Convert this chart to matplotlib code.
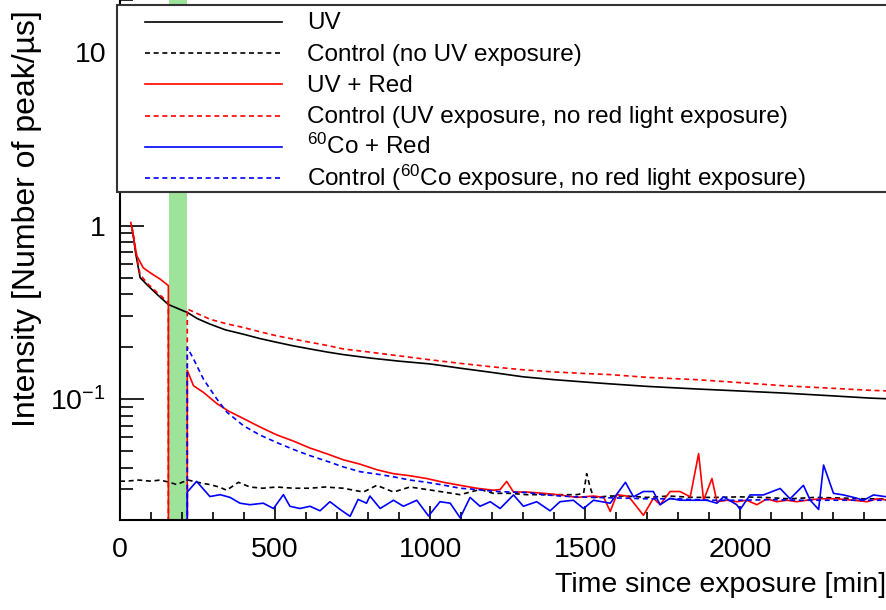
import numpy as np
import matplotlib
matplotlib.use('Agg')
import matplotlib.pyplot as plt
from matplotlib.ticker import FixedLocator, MultipleLocator, NullFormatter
from matplotlib.lines import Line2D
from matplotlib.patches import Rectangle

plt.rcParams['font.family'] = ['Liberation Sans', 'DejaVu Sans']
plt.rcParams['mathtext.fontset'] = 'custom'
plt.rcParams['mathtext.rm'] = 'Liberation Sans'
plt.rcParams['mathtext.it'] = 'Liberation Sans'

# UV (negro continuo)
t_uv = [38, 43, 50, 65, 90, 120, 156, 190, 217, 250, 290, 340, 398, 450, 505, 560, 613, 670, 720,
        806, 900, 1000, 1100, 1200, 1300, 1400, 1500, 1581, 1700, 1860, 2000, 2140, 2300, 2419, 2480]
v_uv = [0.99, 0.87, 0.70, 0.50, 0.45, 0.40, 0.35, 0.33, 0.315, 0.29, 0.27, 0.25, 0.236, 0.223, 0.212,
        0.202, 0.194, 0.186, 0.18, 0.172, 0.165, 0.159, 0.150, 0.142, 0.134, 0.129, 0.125, 0.122,
        0.118, 0.114, 0.111, 0.108, 0.104, 0.101, 0.100]

# Control sin UV (negro discontinuo)
t_ctrl = [0, 21, 60, 100, 129, 160, 183, 200, 220, 250, 290, 320, 344, 382, 419, 460, 505, 560, 613,
          660, 720, 785, 828, 882, 935, 989, 1043, 1097, 1161, 1204, 1258, 1312, 1366, 1419, 1473,
          1495, 1505, 1516, 1527, 1581, 1634, 1700, 1770, 1850, 1920, 2000, 2080, 2160, 2240, 2320,
          2400, 2480]
v_ctrl = [0.0335, 0.0335, 0.034, 0.0335, 0.034, 0.033, 0.032, 0.033, 0.034, 0.033, 0.032, 0.031,
          0.0297, 0.033, 0.031, 0.0305, 0.031, 0.0305, 0.0305, 0.031, 0.0305, 0.029, 0.0317, 0.029,
          0.031, 0.030, 0.029, 0.028, 0.030, 0.0285, 0.0285, 0.028, 0.028, 0.028, 0.028, 0.0285,
          0.037, 0.031, 0.027, 0.0275, 0.0275, 0.027, 0.0275, 0.027, 0.027, 0.0272, 0.027, 0.0265,
          0.027, 0.0268, 0.0265, 0.0265]

# UV + Red (rojo continuo)
t_uvr = [35, 43, 54, 75, 100, 130, 156, 157, 216, 217, 237, 269, 312, 350, 398, 450, 505, 560, 613,
         670, 720, 774, 828, 882, 935, 989, 1043, 1097, 1150, 1204, 1226, 1247, 1269, 1312, 1366,
         1419, 1473, 1527, 1560, 1581, 1602, 1634, 1645, 1688, 1720, 1742, 1774, 1806, 1839, 1866,
         1882, 1909, 1925, 1957, 1989, 2021, 2054, 2086, 2118, 2151, 2183, 2215, 2258, 2312, 2366,
         2409, 2441, 2480]
v_uvr = [1.04, 0.87, 0.67, 0.57, 0.53, 0.49, 0.45, 0.0, 0.0, 0.146, 0.119, 0.109, 0.094, 0.085,
         0.077, 0.069, 0.062, 0.057, 0.052, 0.048, 0.0445, 0.042, 0.039, 0.037, 0.036, 0.0347,
         0.033, 0.0317, 0.0305, 0.0297, 0.030, 0.0334, 0.029, 0.029, 0.0285, 0.0279, 0.027,
         0.0275, 0.027, 0.0224, 0.028, 0.0275, 0.0267, 0.0213, 0.0267, 0.0245, 0.0292, 0.0292,
         0.0272, 0.0483, 0.026, 0.0347, 0.0255, 0.026, 0.0255, 0.026, 0.0245, 0.0265, 0.0255,
         0.026, 0.0255, 0.026, 0.0265, 0.0265, 0.026, 0.0255, 0.0265, 0.026]

# Control UV sin luz roja (rojo discontinuo)
t_uvc = [38, 43, 50, 65, 90, 120, 156, 157, 216, 217, 250, 290, 340, 398, 450, 505, 560, 613, 670,
         720, 806, 900, 1000, 1100, 1200, 1301, 1400, 1500, 1581, 1700, 1860, 2000, 2140, 2300,
         2419, 2480]
v_uvc = [0.99, 0.88, 0.72, 0.52, 0.46, 0.41, 0.36, 0.0, 0.0, 0.33, 0.31, 0.288, 0.272, 0.258, 0.244,
         0.231, 0.221, 0.212, 0.203, 0.194, 0.186, 0.177, 0.168, 0.160, 0.153, 0.147, 0.143, 0.140,
         0.138, 0.133, 0.129, 0.124, 0.119, 0.115, 0.112, 0.111]

# 60Co + Red (azul continuo)
t_cor = [216, 217, 247, 270, 290, 323, 355, 387, 419, 462, 495, 527, 548, 580, 613, 645, 677, 710,
         742, 768, 795, 806, 839, 882, 914, 957, 995, 1032, 1065, 1097, 1129, 1161, 1194, 1226,
         1269, 1301, 1344, 1387, 1419, 1462, 1495, 1527, 1581, 1630, 1656, 1688, 1720, 1742, 1774,
         1806, 1849, 1892, 1925, 1946, 1989, 2000, 2032, 2075, 2129, 2161, 2204, 2226, 2253, 2269,
         2301, 2333, 2366, 2398, 2430, 2473]
v_cor = [0.0, 0.029, 0.0334, 0.030, 0.0273, 0.028, 0.027, 0.025, 0.0245, 0.025, 0.0233, 0.028,
         0.024, 0.0233, 0.024, 0.0226, 0.0255, 0.023, 0.021, 0.0263, 0.025, 0.0275, 0.0233, 0.026,
         0.024, 0.026, 0.0211, 0.0255, 0.025, 0.0206, 0.027, 0.024, 0.0255, 0.0233, 0.0279, 0.024,
         0.0255, 0.0226, 0.0255, 0.026, 0.0233, 0.026, 0.025, 0.033, 0.0272, 0.0292, 0.0292,
         0.0245, 0.0267, 0.026, 0.026, 0.026, 0.025, 0.0272, 0.0245, 0.023, 0.0279, 0.0279, 0.0304,
         0.0265, 0.0317, 0.026, 0.023, 0.0415, 0.0285, 0.0279, 0.027, 0.026, 0.0279, 0.0272]

# Control 60Co sin luz roja (azul discontinuo)
t_coc = [216, 217, 237, 269, 312, 344, 398, 450, 505, 560, 613, 670, 720, 774, 828, 882, 935, 989,
         1043, 1097, 1150, 1204, 1258, 1312, 1366, 1419, 1473, 1527, 1600, 1700, 1800, 1900, 2000,
         2100, 2200, 2300, 2400, 2480]
v_coc = [0.0, 0.198, 0.170, 0.130, 0.100, 0.084, 0.070, 0.062, 0.056, 0.051, 0.047, 0.0435, 0.0405,
         0.038, 0.0368, 0.0355, 0.034, 0.033, 0.0318, 0.0305, 0.030, 0.0293, 0.029, 0.0288, 0.028,
         0.0275, 0.0272, 0.027, 0.0268, 0.0265, 0.0265, 0.026, 0.026, 0.0262, 0.026, 0.026, 0.026,
         0.026]

etiquetas = ['UV', 'Control (no UV exposure)', 'UV + Red',
             'Control (UV exposure, no red light exposure)', r'$^{60}$Co + Red',
             r'Control ($^{60}$Co exposure, no red light exposure)']

W, H = 887, 610
fig = plt.figure(figsize=(W / 100, H / 100), dpi=100)
ax = fig.add_axes([120 / W, 90 / H, 769 / W, 520 / H])
ax.set_yscale('log', nonpositive='clip')

ax.axvspan(157, 217, color='#9de39a', lw=0, zorder=0)

guion = (0, (3, 2.2))
series = [(t_uv, v_uv, 'black', '-'), (t_ctrl, v_ctrl, 'black', guion),
          (t_uvr, v_uvr, 'red', '-'), (t_uvc, v_uvc, 'red', guion),
          (t_cor, v_cor, 'blue', '-'), (t_coc, v_coc, 'blue', guion)]
lw = 1.2
for t, v, c, ls in series:
    ax.plot(t, v, color=c, lw=lw, ls=ls)

ax.set_xlim(0, 2480)
ax.set_ylim(0.02, 20)

ax.xaxis.set_major_locator(MultipleLocator(500))
ax.xaxis.set_minor_locator(MultipleLocator(100))
ax.yaxis.set_major_locator(FixedLocator([0.1, 1, 10]))
ax.set_yticklabels([r'$10^{-1}$', '1', '10'])
menores = [k * d for d in [0.01, 0.1, 1, 10] for k in range(2, 10)]
ax.yaxis.set_minor_locator(FixedLocator(menores))
ax.yaxis.set_minor_formatter(NullFormatter())
ax.tick_params(axis='x', which='major', direction='in', length=10, width=1.2, labelsize=20.5, pad=12)
ax.tick_params(axis='x', which='minor', direction='in', length=6, width=1.2)
ax.tick_params(axis='y', which='major', direction='in', length=17, width=1.2, labelsize=20.5, pad=10)
ax.tick_params(axis='y', which='minor', direction='in', length=9, width=1.2)
for s in ['left', 'bottom']:
    ax.spines[s].set_linewidth(1.5)
ax.spines['right'].set_visible(False)
ax.spines['top'].set_visible(False)

ax.set_xlabel('Time since exposure [min]', fontsize=20.5, ha='right', va='center')
ax.xaxis.set_label_coords((886 - 120) / 769, (520 - 585) / 520)
ax.set_ylabel('Intensity [Number of peak/\u00b5s]', fontsize=23, ha='right', va='center')
ax.yaxis.set_label_coords((27 - 120) / 769, (520 - 10) / 520)

# Leyenda dibujada a mano, estilo ROOT
fig.patches.append(Rectangle((117 / W, 1 - 192 / H), 800 / W, 187 / H, transform=fig.transFigure,
                             facecolor='white', edgecolor='#333333', lw=1.5, zorder=5))
filas = [21.7, 53.3, 84.3, 116, 146.7, 178.3]
for (t, v, c, ls), txt, y in zip(series, etiquetas, filas):
    fig.lines.append(Line2D([145 / W, 282 / W], [1 - y / H, 1 - y / H], transform=fig.transFigure,
                            color=c, ls=ls, lw=lw, zorder=6))
    fig.text(307 / W, 1 - (y + 7.5) / H, txt, fontsize=17.5, va='baseline', ha='left', zorder=7)

fig.savefig('out.png', dpi=100)
